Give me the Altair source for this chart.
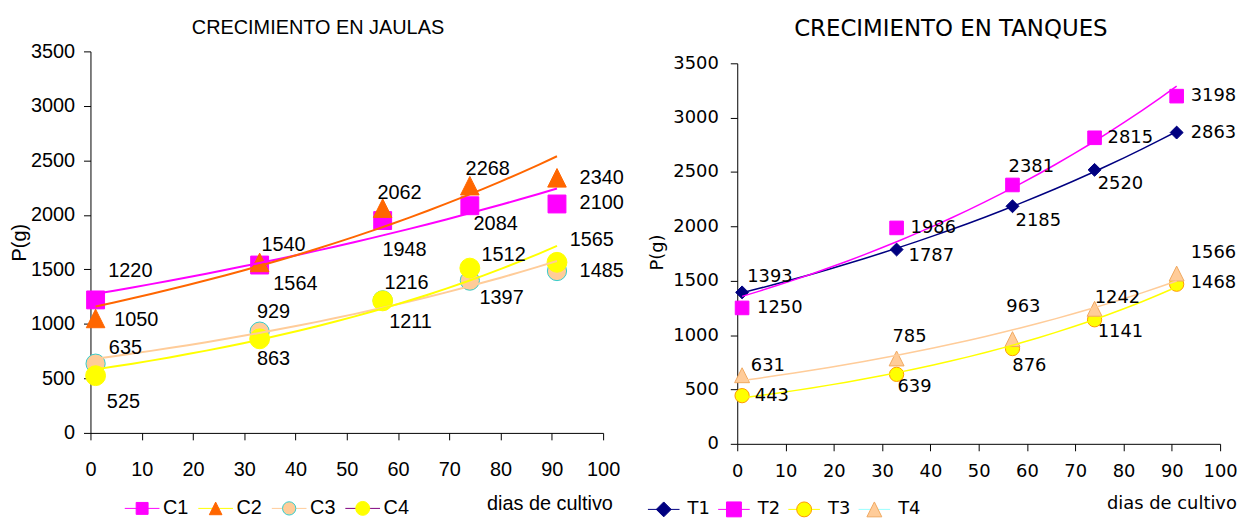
import altair as alt
import pandas as pd

# ---------------- data ----------------
days = [1, 33, 57, 74, 91]

cage_names = ["C1", "C2", "C3", "C4"]
cage_c1 = [1220, 1540, 1948, 2084, 2100]
cage_c2 = [1050, 1564, 2062, 2268, 2340]
cage_c3 = [635, 929, 1216, 1397, 1485]
cage_c4 = [525, 863, 1211, 1512, 1565]

tank_names = ["T1", "T2", "T3", "T4"]
tank_t1 = [1393, 1787, 2185, 2520, 2863]
tank_t2 = [1250, 1986, 2381, 2815, 3198]
tank_t3 = [443, 639, 876, 1141, 1468]
tank_t4 = [631, 785, 963, 1242, 1566]

x_ticks = [0, 10, 20, 30, 40, 50, 60, 70, 80, 90, 100]
y_ticks = [0, 500, 1000, 1500, 2000, 2500, 3000, 3500]

title_left = "CRECIMIENTO EN JAULAS"
title_right = "CRECIMIENTO EN TANQUES"
x_title = "dias de cultivo"
y_title = "P(g)"

# ---------------- label placement (pixel offsets, styling only) ----------------
cage_label_dx = [[35, 24, 22, 26, 45], [41, 36, 17, 18, 45], [30, 14, 24, 32, 45], [28, 14, 28, 34, 35]]
cage_label_dy = [[-29, -20, 30, 18, -1], [2, 22, -15, -17, 0], [-16, -20, -17, 18, 0], [27, 20, 21, -13, -22]]
tank_label_dx = [[28, 35, 26, 26, 37], [38, 37, 19, 36, 37], [30, 18, 17, 26, 37], [26, 13, 11, 23, 37]]
tank_label_dy = [[-15, 7, 15, 14, 0], [0, 0, -18, 0, 0], [0, 13, 18, 12, -1], [-9, -22, -32, -11, -21]]


def build(names, series, dxs, dys):
    rows = []
    for n, vals, dx, dy in zip(names, series, dxs, dys):
        for d, v, a, b in zip(days, vals, dx, dy):
            rows.append({"dia": d, "peso": v, "serie": n, "ldx": a, "ldy": b})
    return pd.DataFrame(rows)


df_cage = build(cage_names, [cage_c1, cage_c2, cage_c3, cage_c4], cage_label_dx, cage_label_dy)
df_tank = build(tank_names, [tank_t1, tank_t2, tank_t3, tank_t4], tank_label_dx, tank_label_dy)

W, H = 1237, 511
TRI = "M0,-1L1,1L-1,1Z"
IND = dict(shape="independent", fill="independent", stroke="independent",
           size="independent", color="independent")


def panel(df, names, p):
    xs = alt.Scale(domain=[0, 100], range=p["xr"], nice=False, zero=False)
    ys = alt.Scale(domain=[0, 3500], range=p["yr"], nice=False)
    kx = (p["xr"][1] - p["xr"][0]) / 100.0
    ky = (p["yr"][0] - p["yr"][1]) / 3500.0
    common_axis = dict(
        grid=False, format="d", domainColor="black", domainWidth=1,
        tickColor="black", tickSize=7, tickWidth=1,
        labelColor="black", labelFont=p["font"], labelFontSize=p["fs"],
        labelFlush=False, labelOverlap=False, labelBound=False,
        titleFont=p["font"], titleFontSize=p["fs"], titleFontWeight="normal",
        titleColor="black", titleAlign="center", titleBaseline="middle",
    )
    xa = alt.Axis(orient="bottom", offset=p["xoff"], values=x_ticks, labelPadding=p["xlp"],
                  title=x_title, titleX=p["xtx"], titleY=p["xty"], **common_axis)
    ya = alt.Axis(orient="left", offset=p["yoff"], values=y_ticks, labelPadding=p["ylp"],
                  title=y_title, titleX=p["ytx"], titleY=p["yty"], titleAngle=270, **common_axis)
    x = alt.X("dia:Q", scale=xs, axis=xa)
    y = alt.Y("peso:Q", scale=ys, axis=ya)
    base = alt.Chart(df)

    pts = base.mark_point(filled=True, opacity=1, strokeWidth=1).encode(
        x=x, y=y,
        shape=alt.Shape("serie:N", scale=alt.Scale(domain=names, range=p["shapes"]), legend=None),
        size=alt.Size("serie:N", scale=alt.Scale(domain=names, range=p["sizes"]), legend=None),
        fill=alt.Fill("serie:N", scale=alt.Scale(domain=names, range=p["fills"]), legend=None),
        stroke=alt.Stroke("serie:N", scale=alt.Scale(domain=names, range=p["edges"]), legend=None),
    )
    trend = base.transform_regression(
        "dia", "peso", method="exp", groupby=["serie"]
    ).mark_line(strokeWidth=p["tw"]).encode(
        x=x, y=y,
        color=alt.Color("serie:N", scale=alt.Scale(domain=names, range=p["trend"]), legend=None),
    )
    labels = base.transform_calculate(
        lxv=f"datum.dia + datum.ldx / {kx}",
        lyv=f"datum.peso - datum.ldy / {ky}",
    ).mark_text(font=p["font"], fontSize=p["fs"], color="black",
                align="center", baseline="middle").encode(
        x=alt.X("lxv:Q", scale=xs, axis=xa),
        y=alt.Y("lyv:Q", scale=ys, axis=ya),
        text=alt.Text("peso:Q", format="d"),
    )
    return alt.layer(pts, trend, labels).resolve_scale(**IND)


def legend(names, p):
    ldf = pd.DataFrame({"serie": names, "idx": list(range(len(names)))})
    ls = alt.Scale(domain=[0, len(names) - 1], range=p["lcx"], nice=False, zero=False)
    h = p["lhalf"]
    lb = alt.Chart(ldf)
    line = lb.transform_calculate(a=f"datum.idx - {h}", b=f"datum.idx + {h}").mark_rule(
        strokeWidth=1).encode(
        x=alt.X("a:Q", scale=ls, axis=None), x2="b:Q", y=alt.value(p["ly"]),
        color=alt.Color("serie:N", scale=alt.Scale(domain=names, range=p["llcol"]), legend=None),
    )
    sym = lb.mark_point(filled=True, opacity=1, strokeWidth=1).encode(
        x=alt.X("idx:Q", scale=ls, axis=None), y=alt.value(p["ly"]),
        shape=alt.Shape("serie:N", scale=alt.Scale(domain=names, range=p["lshape"]), legend=None),
        size=alt.Size("serie:N", scale=alt.Scale(domain=names, range=p["lsize"]), legend=None),
        fill=alt.Fill("serie:N", scale=alt.Scale(domain=names, range=p["fills"]), legend=None),
        stroke=alt.Stroke("serie:N", scale=alt.Scale(domain=names, range=p["ledge"]), legend=None),
    )
    txt = lb.mark_text(align="left", baseline="middle", dx=p["ltx"], font=p["font"],
                       fontSize=p["fs"], color="black").encode(
        x=alt.X("idx:Q", scale=ls, axis=None), y=alt.value(p["ly"]), text="serie:N",
    )
    return alt.layer(line, sym, txt).resolve_scale(**IND)


left_p = dict(
    font="Liberation Sans", fs=20,
    xr=[83, 599], yr=[426, 42], xoff=-85, yoff=-83, xlp=20, ylp=9,
    xtx=545, xty=71, ytx=-71, yty=234,
    shapes=["square", TRI, "circle", "circle"], sizes=[324, 400, 324, 324],
    fills=["#FF00FF", "#FF6600", "#FFCC99", "#FFFF00"],
    edges=["#FF00FF", "#FF6600", "#33CCCC", "#FFFF00"],
    trend=["#FF00FF", "#FF6600", "#FFCC99", "#FFFF00"], tw=2,
    lcx=[135, 357], lhalf=0.236, ly=502, ltx=21,
    lshape=["square", TRI, "circle", "circle"], lsize=[144, 196, 225, 225],
    llcol=["#FF00FF", "#FFFF00", "#FFCC99", "#800080"],
    ledge=["#FF00FF", "#FF6600", "#33CCCC", "#FFFF00"],
)

right_p = dict(
    font="DejaVu Sans", fs=18,
    xr=[734, 1220], yr=[437, 54], xoff=-74, yoff=-734, xlp=12, ylp=12,
    xtx=1171, xty=60, ytx=-80, yty=244,
    shapes=["diamond", "square", "circle", TRI], sizes=[169, 225, 196, 225],
    fills=["#000080", "#FF00FF", "#FFFF00", "#FFCC99"],
    edges=["#000080", "#FF00FF", "#FF9900", "#F0A860"],
    trend=["#000080", "#FF00FF", "#FFFF00", "#FFCC99"], tw=1.5,
    lcx=[660, 872], lhalf=0.225, ly=503, ltx=24,
    lshape=["diamond", "square", "circle", TRI], lsize=[225, 225, 196, 256],
    llcol=["#000080", "#FF00FF", "#FFFF00", "#99FFFF"],
    ledge=["#000080", "#FF00FF", "#FF9900", "#F0A860"],
)

left = panel(df_cage, cage_names, left_p)
right = panel(df_tank, tank_names, right_p)
leg_left = legend(cage_names, left_p)
leg_right = legend(tank_names, right_p)

t_left = alt.Chart(pd.DataFrame({"t": [title_left]})).mark_text(
    font="Liberation Sans", fontSize=20, color="black", align="center", baseline="middle"
).encode(text="t:N", x=alt.value(312), y=alt.value(19))
t_right = alt.Chart(pd.DataFrame({"t": [title_right]})).mark_text(
    font="DejaVu Sans", fontSize=23, color="black", align="center", baseline="middle"
).encode(text="t:N", x=alt.value(949), y=alt.value(20))

chart = alt.layer(left, right, leg_left, leg_right, t_left, t_right).resolve_scale(
    x="independent", y="independent", **IND
).properties(
    width=W, height=H, padding=0, autosize=alt.AutoSizeParams(type="none"),
).configure_view(stroke=None)

chart.save("out.html", embed_options={"renderer": "svg", "actions": False})
